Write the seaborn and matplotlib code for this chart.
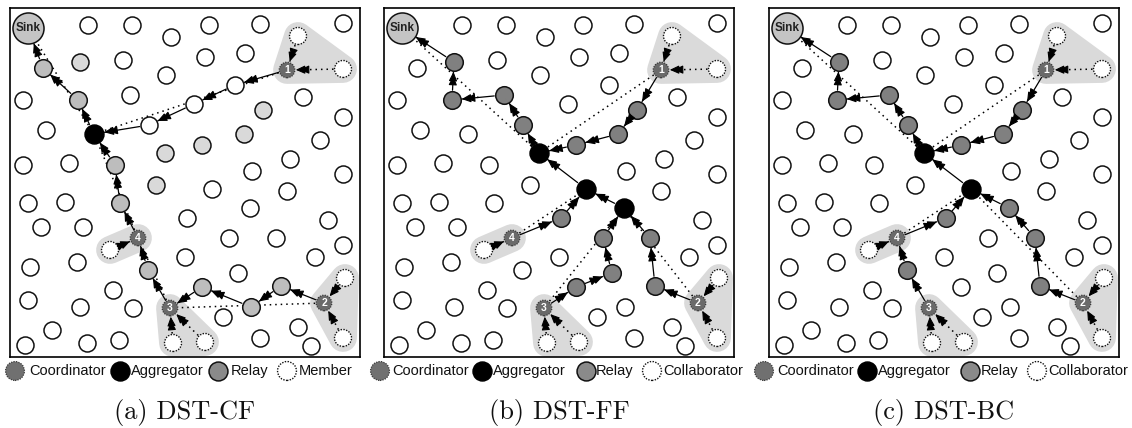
import numpy as np
import pandas as pd
import matplotlib
matplotlib.use("Agg")
import matplotlib.pyplot as plt
from matplotlib.patches import Polygon
import seaborn as sns

# ---------------------------------------------------------------------------
# Sensor field layout (same deployment in every scenario), pixel-like units,
# y grows downward.
# ---------------------------------------------------------------------------
node_x = [28, 88, 132, 171, 209, 260, 343, 80, 123, 43,
          166, 205, 245, 298, 287, 343, 130, 78, 23, 235,
          194, 303, 263, 343, 46, 149, 94, 244, 202, 320,
          165, 115, 23, 69, 156, 290, 252, 343, 212, 287,
          120, 28, 65, 41, 83, 138, 110, 30, 77, 148,
          113, 28, 80, 133, 170, 52, 25, 87, 119, 173,
          205, 250, 328, 187, 229, 276, 343, 315, 185, 238,
          345, 202, 281, 324, 251, 223, 298, 260, 311, 343]
node_y = [28, 25, 25, 37, 25, 24, 23, 62, 60, 68,
          75, 57, 53, 36, 70, 69, 95, 100, 100, 85,
          104, 97, 110, 117, 130, 125, 134, 134, 145, 140,
          153, 165, 165, 163, 185, 159, 171, 174, 189, 191,
          203, 203, 202, 227, 227, 238, 250, 267, 262, 270,
          290, 300, 307, 308, 308, 330, 345, 343, 340, 343,
          342, 208, 220, 218, 238, 238, 245, 257, 257, 273,
          278, 287, 286, 303, 307, 317, 327, 338, 346, 338]

sink = 0
coordinators = [14, 73, 54, 45]
coordinator_labels = ["1", "2", "3", "4"]
members = [13, 15, 70, 79, 59, 60, 46]
member_links = [(13, 14), (15, 14), (70, 73), (79, 73), (59, 54), (60, 54), (46, 45)]
clusters = [[14, 13, 15], [73, 70, 79], [54, 59, 60], [45, 46]]

# DST-CF
cf_aggregators = [26]
cf_relays = [9, 17, 31, 40, 49, 71, 72, 74]
cf_spare = [7, 22, 27, 28, 30, 34]
cf_paths = [(14, 19), (19, 20), (20, 25), (25, 26), (26, 17), (17, 9), (9, 0),
            (54, 49), (49, 45), (45, 40), (40, 31), (31, 26),
            (73, 72), (72, 74), (74, 71), (71, 54)]
cf_logical = [(14, 26), (26, 0), (73, 54), (54, 45), (45, 26)]

# DST-FF
ff_aggregators = [30, 38, 61]
ff_relays = [7, 16, 17, 25, 22, 27, 28, 63, 64, 65, 69, 71, 72]
ff_paths = [(14, 22), (22, 27), (27, 28), (28, 30), (30, 25), (25, 16), (16, 17),
            (17, 7), (7, 0), (38, 30), (61, 38), (45, 63), (63, 38),
            (54, 71), (71, 69), (69, 64), (64, 61), (73, 72), (72, 65), (65, 61)]
ff_logical = [(14, 30), (30, 0), (45, 38), (54, 61), (73, 61)]

# DST-BC
bc_aggregators = [30, 38]
bc_relays = [7, 16, 17, 25, 22, 27, 28, 63, 49, 61, 65, 72]
bc_paths = [(14, 22), (22, 27), (27, 28), (28, 30), (30, 25), (25, 16), (16, 17),
            (17, 7), (7, 0), (38, 30), (45, 63), (63, 38), (54, 49), (49, 45),
            (73, 72), (72, 65), (65, 61), (61, 38)]
bc_logical = [(14, 30), (30, 0), (45, 38), (73, 38)]

captions = ["(a) DST-CF", "(b) DST-FF", "(c) DST-BC"]
legend_labels_cf = ["Coordinator", "Aggregator", "Relay", "Member"]
legend_labels_other = ["Coordinator", "Aggregator", "Relay", "Collaborator"]

# ---------------------------------------------------------------------------
sns.set_theme(style="white")
plt.rcParams["font.family"] = ["Liberation Sans", "DejaVu Sans"]

W, H = 1132, 428
panel_left = [10, 384, 769]
X0, X1, Y0, Y1 = 10, 360, 8, 357

DOT = (0, (1, 1.0))
style = {
    "node":        dict(s=150, fc="white",   ec="#111111", ls="solid", lw=1.1, r=8.5),
    "spare":       dict(s=150, fc="#d9d9d9", ec="#111111", ls="solid", lw=1.1, r=8.5),
    "relay":       dict(s=160, fc="#808080", ec="#111111", ls="solid", lw=1.1, r=8.8),
    "aggregator":  dict(s=185, fc="black",   ec="black",   ls="solid", lw=1.1, r=9.5),
    "coordinator": dict(s=125, fc="#6a6a6a", ec="#3a3a3a", ls=DOT,     lw=0.9, r=7.8),
    "member":      dict(s=150, fc="white",   ec="#111111", ls=DOT,     lw=1.0, r=8.5),
    "sink":        dict(s=500, fc="#c4c4c4", ec="#111111", ls="solid", lw=1.1, r=15.5),
}

panels = [
    dict(agg=cf_aggregators, relays=cf_relays, spare=cf_spare, paths=cf_paths,
         logical=cf_logical, relay_fc="#bdbdbd", labels=legend_labels_cf,
         key_x=[15, 120, 218, 287], text_x=[29, 131, 231, 299]),
    dict(agg=ff_aggregators, relays=ff_relays, spare=[], paths=ff_paths,
         logical=ff_logical, relay_fc="#808080", labels=legend_labels_other,
         key_x=[6, 108, 212, 278], text_x=[18, 119, 222, 289]),
    dict(agg=bc_aggregators, relays=bc_relays, spare=[], paths=bc_paths,
         logical=bc_logical, relay_fc="#808080", labels=legend_labels_other,
         key_x=[5, 108, 211, 278], text_x=[18, 119, 222, 289]),
]

xy = np.column_stack([node_x, node_y]).astype(float)


def link(ax, a, b, radius, dotted, head):
    p, q = xy[a], xy[b]
    u = (q - p) / np.linalg.norm(q - p)
    start = p + u * (radius[a] + 1.0)
    end = q - u * (radius[b] + 1.0)
    if dotted:
        ax.plot([start[0], end[0]], [start[1], end[1]], color="black",
                lw=1.1, ls=(0, (1, 2.6)), zorder=2, solid_capstyle="round")
    else:
        ax.plot([start[0], end[0]], [start[1], end[1]], color="black",
                lw=0.9, zorder=3)
    if head:
        for back in (0.0, 4.0):
            tip = end - u * back
            ax.annotate("", xy=tip, xytext=tip - u * 7.5,
                        arrowprops=dict(arrowstyle="-|>,head_length=0.55,head_width=0.25",
                                        color="black", lw=0.8, shrinkA=0, shrinkB=0,
                                        mutation_scale=10),
                        zorder=5)


fig = plt.figure(figsize=(W / 100, H / 100), dpi=100)

for k, pn in enumerate(panels):
    ax = fig.add_axes([panel_left[k] / W, (H - Y1) / H, (X1 - X0) / W, (Y1 - Y0) / H])
    ax.set_xlim(X0, X1)
    ax.set_ylim(Y1, Y0)

    roles = ["node"] * len(node_x)
    for i in pn["spare"]:
        roles[i] = "spare"
    for i in pn["relays"]:
        roles[i] = "relay"
    for i in pn["agg"]:
        roles[i] = "aggregator"
    for i in coordinators:
        roles[i] = "coordinator"
    for i in members:
        roles[i] = "member"
    roles[sink] = "sink"
    radius = [style[r]["r"] for r in roles]

    # cluster regions
    for cl in clusters:
        poly = Polygon(xy[cl], closed=True, facecolor="#dadada", edgecolor="#dadada",
                       lw=20, joinstyle="round", capstyle="round", zorder=1)
        ax.add_patch(poly)

    for a, b in pn["logical"]:
        link(ax, a, b, radius, dotted=True, head=False)
    for a, b in member_links:
        link(ax, a, b, radius, dotted=True, head=True)
    for a, b in pn["paths"]:
        link(ax, a, b, radius, dotted=False, head=True)

    df = pd.DataFrame({"x": node_x, "y": node_y, "role": roles})
    for role, grp in df.groupby("role"):
        st = style[role]
        fc = pn["relay_fc"] if role == "relay" else st["fc"]
        sns.scatterplot(data=grp, x="x", y="y", ax=ax, s=st["s"], color=fc,
                        edgecolor=st["ec"], linewidth=st["lw"], linestyle=st["ls"],
                        legend=False, zorder=4)

    ax.text(node_x[sink], node_y[sink], "Sink", ha="center", va="center",
            fontsize=8.5, fontweight="bold", color="#222222", zorder=6)
    for c, lab in zip(coordinators, coordinator_labels):
        ax.text(node_x[c], node_y[c] + 0.3, lab, ha="center", va="center",
                fontsize=7.5, fontweight="bold", color="white", zorder=6)

    ax.set(xlabel="", ylabel="", xticks=[], yticks=[])
    for sp in ax.spines.values():
        sp.set_visible(True)
        sp.set_color("black")
        sp.set_linewidth(1.2)

    # legend row
    key_styles = [dict(fc="#707070", ec="#3a3a3a", ls=DOT, lw=0.9),
                  dict(fc="black", ec="black", ls="solid", lw=1.1),
                  dict(fc="#8a8a8a", ec="#111111", ls="solid", lw=1.1),
                  dict(fc="white", ec="#111111", ls=DOT, lw=1.0)]
    for kx, tx, lab, ks in zip(pn["key_x"], pn["text_x"], pn["labels"], key_styles):
        ax.scatter([kx], [371], s=185, facecolor=ks["fc"], edgecolor=ks["ec"],
                   linewidth=ks["lw"], linestyle=ks["ls"], clip_on=False, zorder=4)
        ax.text(tx, 371, lab, ha="left", va="center", fontsize=10.5,
                color="#111111", clip_on=False)

    ax.text((X0 + X1) / 2, 413, captions[k], ha="center", va="center",
            fontsize=19, family="cmr10", color="#111111", clip_on=False)

fig.savefig("out.png", dpi=100)
